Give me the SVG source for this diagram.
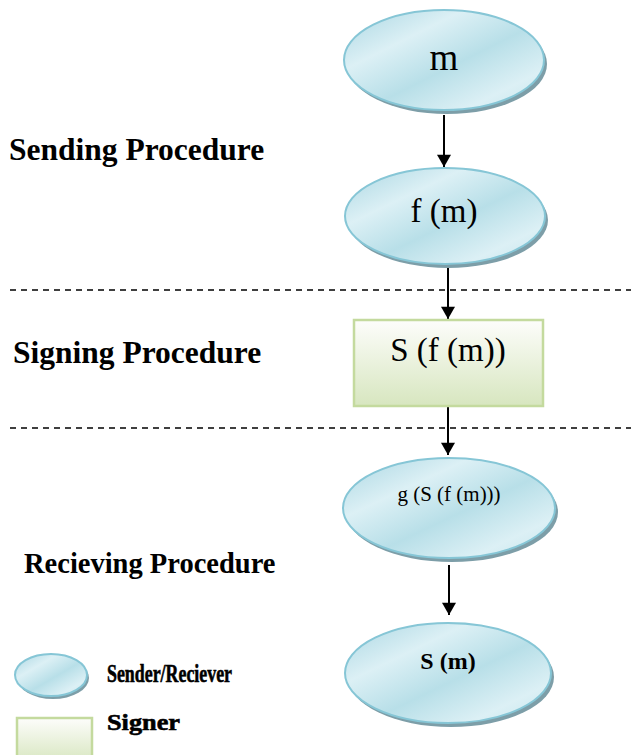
<svg xmlns="http://www.w3.org/2000/svg" width="631" height="755" viewBox="0 0 631 755">
<defs>
<linearGradient id="gBlue" x1="0" y1="0" x2="1" y2="1">
<stop offset="0" stop-color="#a9d6e2"/>
<stop offset="0.3" stop-color="#dcf0f5"/>
<stop offset="0.55" stop-color="#b8dfe8"/>
<stop offset="0.8" stop-color="#dcf0f5"/>
<stop offset="1" stop-color="#c5e5ec"/>
</linearGradient>
<linearGradient id="gGreen" x1="0" y1="0" x2="0" y2="1">
<stop offset="0" stop-color="#fdfdfb"/>
<stop offset="1" stop-color="#d7e6bf"/>
</linearGradient>
<marker id="arr" viewBox="0 0 14 16" refX="14" refY="8" markerWidth="16" markerHeight="14" orient="auto" markerUnits="userSpaceOnUse">
<path d="M0,0 L14,8 L0,16 z" fill="#000"/>
</marker>
<style>
.ell{fill:url(#gBlue);stroke:#86c6d6;stroke-width:2}
.sh{fill:#7d9ea8}
.box{fill:url(#gGreen);stroke:#c4da9e;stroke-width:2.5}
.lbl{font-weight:bold;fill:#000}
.nt{fill:#000;text-anchor:middle}
.conn{stroke:#000;stroke-width:2;fill:none}
.dash{stroke:#000;stroke-width:1.5;stroke-dasharray:6,5;fill:none}
</style>
</defs>
<rect width="631" height="755" fill="#fff"/>

<g id="sections" font-family="Liberation Serif, Times New Roman, serif">
<line class="dash" x1="10" y1="290" x2="631" y2="290"/>
<line class="dash" x1="10" y1="428" x2="631" y2="428"/>
<text class="lbl" x="9" y="160" font-size="31.5">Sending Procedure</text>
<text class="lbl" x="13" y="363" font-size="31.5">Signing Procedure</text>
<text class="lbl" x="24" y="573" font-size="28.5">Recieving Procedure</text>
</g>

<g id="connectors">
<line class="conn" x1="444" y1="115" x2="444" y2="167" marker-end="url(#arr)"/>
<line class="conn" x1="448" y1="268" x2="448" y2="319" marker-end="url(#arr)"/>
<line class="conn" x1="448" y1="406" x2="448" y2="455" marker-end="url(#arr)"/>
<line class="conn" x1="449" y1="565" x2="449" y2="615" marker-end="url(#arr)"/>
</g>

<g id="node-m" font-family="Liberation Serif, Times New Roman, serif">
<ellipse class="sh" cx="447" cy="64" rx="100" ry="50"/>
<ellipse class="ell" cx="444" cy="60" rx="100" ry="50"/>
<text class="nt" x="444" y="70" font-size="37">m</text>
</g>

<g id="node-fm" font-family="Liberation Serif, Times New Roman, serif">
<ellipse class="sh" cx="448" cy="220" rx="100" ry="48"/>
<ellipse class="ell" cx="445" cy="216" rx="100" ry="48"/>
<text class="nt" x="444" y="222" font-size="33">f (m)</text>
</g>

<g id="node-sfm" font-family="Liberation Serif, Times New Roman, serif">
<rect class="box" x="354" y="320" width="189" height="86"/>
<text class="nt" x="448" y="361" font-size="33">S (f (m))</text>
</g>

<g id="node-gsfm" font-family="Liberation Serif, Times New Roman, serif">
<ellipse class="sh" cx="452" cy="512" rx="106" ry="50"/>
<ellipse class="ell" cx="449" cy="508" rx="106" ry="50"/>
<text class="nt" x="449" y="501" font-size="21">g (S (f (m)))</text>
</g>

<g id="node-sm" font-family="Liberation Serif, Times New Roman, serif">
<ellipse class="sh" cx="451" cy="677" rx="103" ry="50"/>
<ellipse class="ell" cx="448" cy="673" rx="103" ry="50"/>
<text class="nt" x="448" y="669" font-size="24" font-weight="bold">S (m)</text>
</g>

<g id="legend" font-family="Liberation Serif, Times New Roman, serif">
<ellipse class="sh" cx="53" cy="678" rx="36" ry="21"/>
<ellipse class="ell" cx="51" cy="675" rx="36" ry="21"/>
<text class="lbl" x="107" y="682" font-size="25" stroke="#000" stroke-width="0.6" textLength="125" lengthAdjust="spacingAndGlyphs">Sender/Reciever</text>
<rect class="box" x="17" y="718" width="75" height="45"/>
<text class="lbl" x="107" y="730" font-size="24" stroke="#000" stroke-width="0.6" textLength="73" lengthAdjust="spacingAndGlyphs">Signer</text>
</g>
</svg>
